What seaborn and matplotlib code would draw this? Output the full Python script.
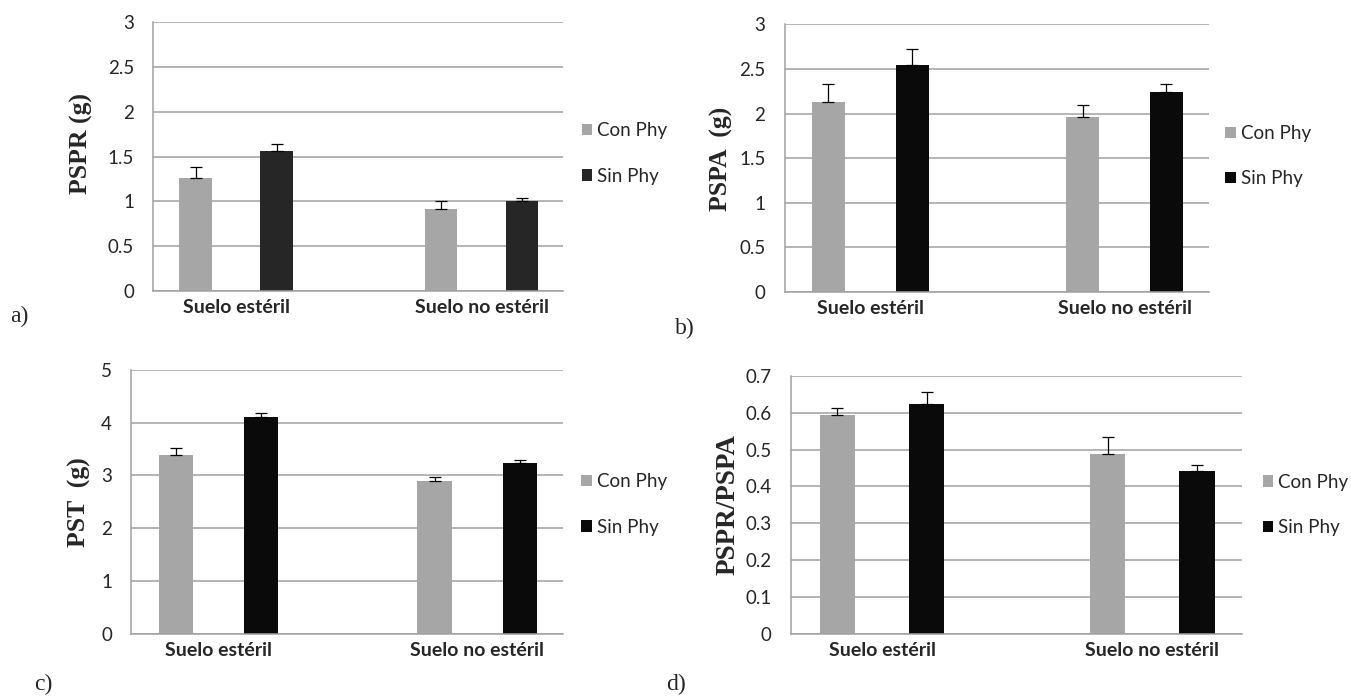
import numpy as np
import pandas as pd
import matplotlib.pyplot as plt
import seaborn as sns

# Categorias y tratamientos
suelos = ["Suelo estéril", "Suelo no estéril"]
tratamientos = ["Con Phy", "Sin Phy"]

# a) PSPR
pspr_con = [1.26, 0.92]
pspr_sin = [1.56, 1.00]
pspr_err_con = [0.13, 0.08]
pspr_err_sin = [0.085, 0.04]

# b) PSPA
pspa_con = [2.13, 1.96]
pspa_sin = [2.54, 2.24]
pspa_err_con = [0.20, 0.13]
pspa_err_sin = [0.18, 0.09]

# c) PST
pst_con = [3.39, 2.90]
pst_sin = [4.11, 3.24]
pst_err_con = [0.125, 0.08]
pst_err_sin = [0.08, 0.05]

# d) PSPR/PSPA
ratio_con = [0.594, 0.488]
ratio_sin = [0.624, 0.442]
ratio_err_con = [0.02, 0.046]
ratio_err_sin = [0.032, 0.017]

sns.set_style("white")
plt.rcParams["font.family"] = ["Lato", "DejaVu Sans"]

gris = "#A6A6A6"
linea = "#A0A0A0"

fig = plt.figure(figsize=(13.51, 6.96), dpi=100)


def panel(rect, con, sin, err_con, err_sin, negro, ymax, paso, ylabel, ylab_xy, leg_xy, ysize=18.5):
    ax = fig.add_axes(rect)
    df = pd.DataFrame({
        "suelo": suelos * 2,
        "trat": [tratamientos[0]] * 2 + [tratamientos[1]] * 2,
        "valor": con + sin,
    })
    sns.barplot(data=df, x="suelo", y="valor", hue="trat", hue_order=tratamientos,
                palette=[gris, negro], width=0.66, gap=0.6, saturation=1,
                errorbar=None, linewidth=0, ax=ax)

    # barras de error (solo hacia arriba)
    for cont, err in zip(ax.containers, [err_con, err_sin]):
        xs = [b.get_x() + b.get_width() / 2 for b in cont]
        hs = [b.get_height() for b in cont]
        ax.errorbar(xs, hs, yerr=[np.zeros(len(err)), err], fmt="none",
                    ecolor="black", elinewidth=0.9, capsize=4.3, capthick=0.9, zorder=3)

    ax.set_xlim(-0.337, 1.332)
    ax.set_ylim(0, ymax)
    ticks = np.arange(0, ymax + paso / 2, paso)
    ax.set_yticks(ticks)
    ax.set_yticklabels([f"{t:g}" for t in ticks], fontsize=13.5)
    ax.yaxis.grid(True, color=linea, linewidth=1.1)
    ax.set_axisbelow(True)
    for s in ["top", "right"]:
        ax.spines[s].set_visible(False)
    for s in ["left", "bottom"]:
        ax.spines[s].set_color(linea)
        ax.spines[s].set_linewidth(1.1)
    ax.tick_params(axis="y", length=4, width=1.1, color=linea, pad=10)
    ax.tick_params(axis="x", length=0, pad=6)
    for lab in ax.get_xticklabels():
        lab.set_fontweight("bold")
        lab.set_fontsize(14)

    ax.set_xlabel("")
    ax.set_ylabel(ylabel, family="Liberation Serif", fontweight="bold", fontsize=ysize)
    ax.yaxis.set_label_coords(*ylab_xy)

    handles, labels = ax.get_legend_handles_labels()
    ax.legend(handles, labels, loc="center left", bbox_to_anchor=leg_xy, frameon=False,
              fontsize=13.5, handlelength=0.55, handleheight=0.55, handletextpad=0.27,
              labelspacing=1.5, borderpad=0, borderaxespad=0)
    return ax


panel([0.1136, 0.5819, 0.3031, 0.386], pspr_con, pspr_sin, pspr_err_con, pspr_err_sin,
      "#262626", 3, 0.5, "PSPR (g)", (-0.148, 0.55), (1.046, 0.512))
panel([0.5809, 0.5805, 0.3139, 0.3846], pspa_con, pspa_sin, pspa_err_con, pspa_err_sin,
      "#0A0A0A", 3, 0.5, "PSPA  (g)", (-0.121, 0.499), (1.039, 0.508))
panel([0.0973, 0.0895, 0.3195, 0.3789], pst_con, pst_sin, pst_err_con, pst_err_sin,
      "#0A0A0A", 5, 1, "PST  (g)", (-0.094, 0.4975), (1.042, 0.49))
panel([0.5855, 0.0895, 0.3337, 0.3703], ratio_con, ratio_sin, ratio_err_con, ratio_err_sin,
      "#0A0A0A", 0.7, 0.1, "PSPR/PSPA", (-0.113, 0.50), (1.047, 0.50), ysize=19.5)

# etiquetas de los paneles
for txt, x, y in [("a)", 19, 316), ("b)", 685, 328), ("c)", 43, 684), ("d)", 676, 684)]:
    fig.text(x / 1351, 1 - y / 696, txt, ha="center", va="center",
             family="Liberation Serif", fontsize=17)

plt.savefig("out.png", dpi=100)
